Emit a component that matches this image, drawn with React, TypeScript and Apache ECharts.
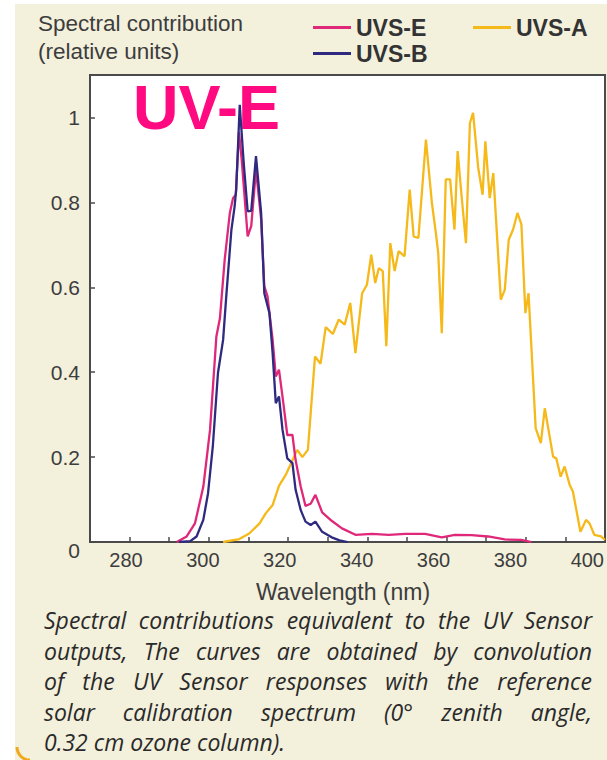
import React, { useEffect, useRef } from 'react';
import * as echarts from 'echarts';

// ---- data ----
const uvsEWavelength = [291.9, 294.4, 296.5, 298.6, 300.3, 301.9, 302.8, 304.0, 305.3, 306.1, 306.8, 307.6, 308.3, 309.8, 310.7, 311.9, 313.2, 314.0, 314.8, 316.1, 316.9, 317.7, 318.7, 319.8, 321.1, 321.9, 323.2, 324.4, 325.7, 326.9, 328.6, 331.0, 333.6, 337.0, 341.2, 345.4, 349.6, 354.6, 358.8, 362.1, 366.3, 370.5, 374.7, 378.9, 381.4];
const uvsEValue = [0, 0.013, 0.044, 0.13, 0.264, 0.484, 0.527, 0.665, 0.775, 0.81, 0.818, 0.965, 0.9, 0.72, 0.744, 0.877, 0.76, 0.602, 0.579, 0.476, 0.39, 0.406, 0.335, 0.252, 0.252, 0.193, 0.13, 0.085, 0.09, 0.111, 0.07, 0.05, 0.032, 0.017, 0.019, 0.017, 0.019, 0.019, 0.011, 0.017, 0.016, 0.013, 0.006, 0.005, 0];

const uvsBWavelength = [292.5, 295.3, 296.9, 298.6, 299.8, 301.0, 302.3, 303.6, 304.4, 305.7, 306.5, 306.9, 307.8, 308.8, 309.8, 310.7, 311.9, 313.2, 314.0, 315.3, 316.1, 316.9, 317.7, 318.6, 319.8, 321.1, 321.9, 323.2, 324.4, 325.7, 326.9, 328.6, 331.0, 333.0, 335.0];
const uvsBValue = [0, 0.002, 0.013, 0.052, 0.115, 0.225, 0.398, 0.476, 0.579, 0.736, 0.79, 0.83, 1.03, 0.893, 0.779, 0.78, 0.909, 0.775, 0.586, 0.539, 0.445, 0.327, 0.343, 0.264, 0.197, 0.186, 0.123, 0.075, 0.048, 0.04, 0.048, 0.024, 0.011, 0.004, 0];

const uvsAWavelength = [303.6, 307.7, 310.2, 312.8, 314.4, 316.1, 317.7, 319.4, 320.5, 322.3, 323.6, 325.0, 326.8, 328.2, 329.5, 331.3, 332.8, 334.3, 335.7, 337.0, 338.7, 339.9, 341.0, 342.0, 342.9, 343.9, 344.8, 345.8, 346.9, 347.9, 349.4, 350.7, 351.7, 352.9, 354.8, 356.3, 357.3, 357.9, 358.8, 359.8, 360.9, 362.0, 362.8, 363.8, 364.9, 365.9, 366.7, 368.0, 369.1, 369.8, 370.9, 371.8, 373.7, 374.7, 375.7, 376.8, 377.9, 378.9, 379.9, 380.7, 382.5, 383.8, 384.8, 386.9, 387.7, 388.8, 389.8, 391.1, 391.9, 393.8, 395.2, 396.1, 397.3, 399.0, 400.0];
const uvsAValue = [0, 0.007, 0.02, 0.044, 0.068, 0.087, 0.132, 0.158, 0.18, 0.217, 0.2, 0.217, 0.437, 0.42, 0.506, 0.49, 0.524, 0.512, 0.563, 0.445, 0.586, 0.606, 0.677, 0.61, 0.645, 0.638, 0.461, 0.704, 0.638, 0.685, 0.673, 0.83, 0.72, 0.716, 0.948, 0.799, 0.728, 0.681, 0.492, 0.854, 0.854, 0.736, 0.921, 0.815, 0.704, 0.987, 1.011, 0.881, 0.818, 0.944, 0.81, 0.869, 0.571, 0.594, 0.712, 0.736, 0.775, 0.748, 0.539, 0.586, 0.268, 0.233, 0.315, 0.201, 0.197, 0.154, 0.178, 0.134, 0.119, 0.024, 0.052, 0.044, 0.017, 0.013, 0.005];

const seriesNames = ['UVS-E', 'UVS-B', 'UVS-A'];
const yAxisTitle = ['Spectral contribution', '(relative units)'];
const xAxisTitle = 'Wavelength (nm)';
const annotation = 'UV-E';
const captionLines = [
  'Spectral contributions equivalent to the UV Sensor',
  'outputs, The curves are obtained by convolution',
  'of the UV Sensor responses with the reference',
  'solar calibration spectrum (0° zenith angle,',
  '0.32 cm ozone column).',
];

const zip = (xs: number[], ys: number[]) => xs.map((x, i) => [x, ys[i]]);

const CREAM = '#f3f0dc';
const AXIS = '#4a4a4a';
const LABEL = '#3d3d3d';
const SANS = '"Liberation Sans", Arial, sans-serif';
const CAPTION_FONT = 'italic 23px "Open Sans"';

function captionGraphics() {
  const canvas = document.createElement('canvas');
  const ctx = canvas.getContext('2d')!;
  ctx.font = CAPTION_FONT;
  const left = 44;
  const right = 592;
  const top = 620;
  const step = 30.6;
  const els: any[] = [];
  captionLines.forEach((line, i) => {
    const y = top + i * step;
    const justify = i < captionLines.length - 1;
    if (!justify) {
      els.push({
        type: 'text', x: left, y, z: 5,
        style: { text: line, font: CAPTION_FONT, fill: '#2a2a2a', textAlign: 'left', textVerticalAlign: 'middle' },
      });
      return;
    }
    const words = line.split(' ');
    const widths = words.map((w) => ctx.measureText(w).width);
    const total = widths.reduce((a, b) => a + b, 0);
    const gap = Math.max(3, (right - left - total) / (words.length - 1));
    let x = left;
    words.forEach((w, k) => {
      els.push({
        type: 'text', x, y, z: 5,
        style: { text: w, font: CAPTION_FONT, fill: '#2a2a2a', textAlign: 'left', textVerticalAlign: 'middle' },
      });
      x += widths[k] + gap;
    });
  });
  return els;
}

export default function App() {
  const ref = useRef<HTMLDivElement>(null);
  useEffect(() => {
    document.body.style.margin = '0';
    const chart = echarts.init(ref.current!, null, { renderer: 'svg' });
    const legendText = { fontSize: 23, fontWeight: 'bold', color: '#333', fontFamily: SANS };
    const option: any = {
      animation: false,
      backgroundColor: CREAM,
      grid: [
        { left: 90, right: 2, top: 75, bottom: 218, show: true, backgroundColor: '#ffffff', borderColor: AXIS, borderWidth: 2, containLabel: false },
        { left: 126, right: 18, top: 75, bottom: 218, show: false, containLabel: false },
      ],
      xAxis: [
        {
          type: 'value', gridIndex: 0, min: 270, max: 400, interval: 10,
          axisLine: { show: true, lineStyle: { color: AXIS, width: 2 } },
          axisTick: { show: true, inside: true, length: 5, lineStyle: { color: AXIS, width: 1.5 } },
          axisLabel: { show: false },
          splitLine: { show: false },
        },
        {
          type: 'value', gridIndex: 1, min: 280, max: 400, interval: 20,
          axisLine: { show: false }, axisTick: { show: false }, splitLine: { show: false },
          axisLabel: { show: true, margin: 8, fontSize: 20, color: LABEL, fontFamily: SANS },
        },
      ],
      yAxis: [
        {
          type: 'value', gridIndex: 0, min: 0, max: 1.1, interval: 0.2,
          axisLine: { show: true, lineStyle: { color: AXIS, width: 2 } },
          axisTick: { show: true, inside: true, length: 5, lineStyle: { color: AXIS, width: 1.5 } },
          splitLine: { show: false },
          axisLabel: {
            show: true, margin: 10, fontSize: 21, color: LABEL, fontFamily: SANS,
            formatter: (v: number) => {
              if (v > 1.05) return '';
              if (v === 0) return '{z|0}';
              return String(Math.round(v * 10) / 10);
            },
            rich: { z: { fontSize: 21, color: LABEL, fontFamily: SANS, padding: [16, 0, 0, 0] } },
          },
        },
        { type: 'value', gridIndex: 1, min: 0, max: 1, show: false },
      ],
      legend: [
        {
          data: [seriesNames[0], seriesNames[1]], orient: 'vertical', left: 313, top: 16, padding: 0,
          icon: 'rect', itemWidth: 38, itemHeight: 3, itemGap: 3, selectedMode: false,
          textStyle: legendText,
        },
        {
          data: [seriesNames[2]], orient: 'vertical', left: 473, top: 16, padding: 0,
          icon: 'rect', itemWidth: 38, itemHeight: 3, itemGap: 3, selectedMode: false,
          textStyle: legendText,
        },
      ],
      series: [
        {
          name: seriesNames[2], type: 'line', xAxisIndex: 0, yAxisIndex: 0, data: zip(uvsAWavelength, uvsAValue),
          showSymbol: false, color: '#f6b91a', lineStyle: { width: 2.3, color: '#f6b91a' }, z: 2,
        },
        {
          name: seriesNames[0], type: 'line', xAxisIndex: 0, yAxisIndex: 0, data: zip(uvsEWavelength, uvsEValue),
          showSymbol: false, color: '#e0287a', lineStyle: { width: 2.3, color: '#e0287a' }, z: 3,
        },
        {
          name: seriesNames[1], type: 'line', xAxisIndex: 0, yAxisIndex: 0, data: zip(uvsBWavelength, uvsBValue),
          showSymbol: false, color: '#2d2a80', lineStyle: { width: 2.3, color: '#2d2a80' }, z: 4,
        },
      ],
      graphic: [
        { type: 'rect', shape: { x: 0, y: 0, width: 15, height: 760 }, style: { fill: '#ffffff' }, z: 0, silent: true },
        { type: 'rect', shape: { x: 0, y: 0, width: 607, height: 4 }, style: { fill: '#ffffff' }, z: 0, silent: true },
        { type: 'arc', shape: { cx: 30, cy: 747, r: 13, startAngle: Math.PI / 2, endAngle: Math.PI }, style: { stroke: '#f0a81c', lineWidth: 3, fill: 'none' }, z: 1, silent: true },
        { type: 'text', x: 38, y: 23, z: 5, style: { text: yAxisTitle[0], font: `22.5px ${SANS}`, fill: LABEL, textAlign: 'left', textVerticalAlign: 'middle' } },
        { type: 'text', x: 38, y: 51, z: 5, style: { text: yAxisTitle[1], font: `22.5px ${SANS}`, fill: LABEL, textAlign: 'left', textVerticalAlign: 'middle' } },
        { type: 'text', x: 343, y: 592, z: 5, style: { text: xAxisTitle, font: `23px ${SANS}`, fill: LABEL, textAlign: 'center', textVerticalAlign: 'middle' } },
        { type: 'text', x: 133, y: 107, z: 1, style: { text: annotation, font: `bold 63px ${SANS}`, fill: '#ff0a80', textAlign: 'left', textVerticalAlign: 'middle' } },
        ...captionGraphics(),
      ],
    };
    chart.setOption(option);
    return () => chart.dispose();
  }, []);
  return <div ref={ref} style={{ width: 607, height: 760 }} />;
}
